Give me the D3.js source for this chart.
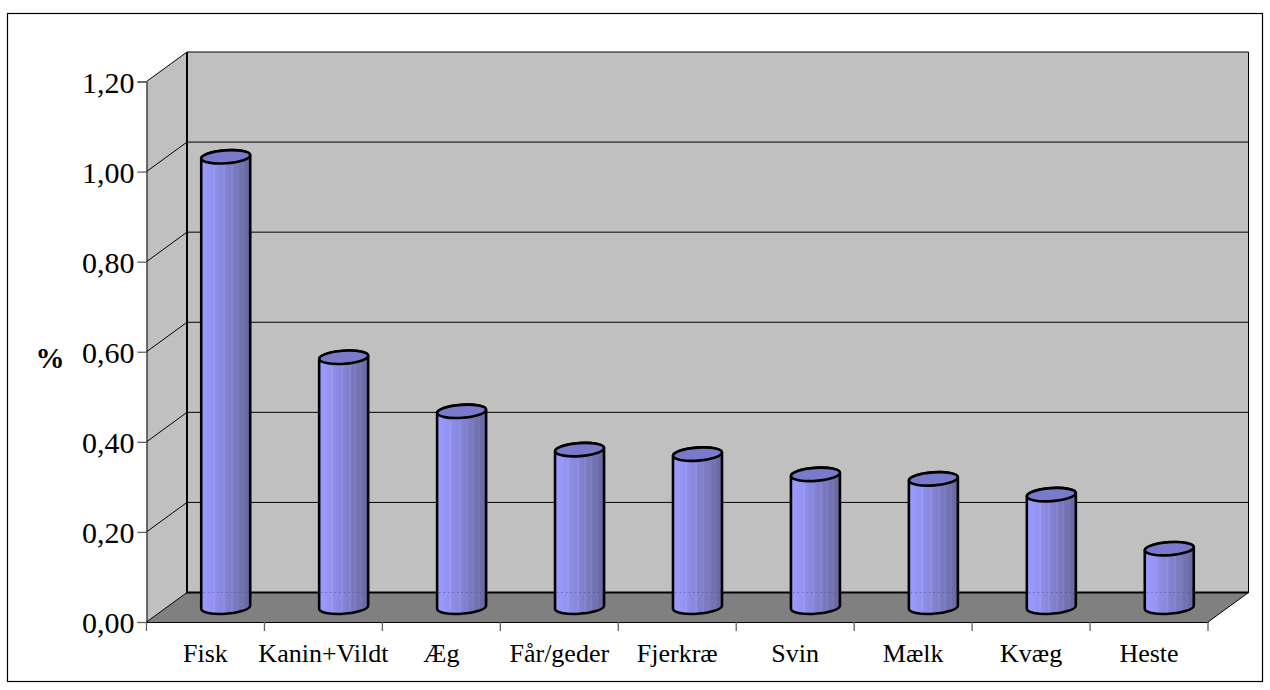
<!DOCTYPE html>
<html>
<head>
<meta charset="utf-8">
<script src="https://cdn.jsdelivr.net/npm/d3@7"></script>
<style>
  html, body { margin: 0; background: #fff; }
  text { font-family: "Liberation Serif", serif; fill: #000; }
</style>
</head>
<body>
<svg id="chart" width="1270" height="690"></svg>
<script>
const categories = ["Fisk", "Kanin+Vildt", "Æg", "Får/geder", "Fjerkræ", "Svin", "Mælk", "Kvæg", "Heste"];
const values = [1.00, 0.555, 0.435, 0.35, 0.34, 0.295, 0.285, 0.25, 0.13];
const yTicks = [0, 0.2, 0.4, 0.6, 0.8, 1.0, 1.2];
const shadeStops = ["#9c9cff","#9a9afd","#9898fa","#9797f8","#9595f4","#9393f1","#9999ee","#8e8eea","#8c8ce6","#8a8ae2","#8888de","#8f8fda","#8484d6","#8181d1","#7f7fcd","#8686c9","#7b7bc5","#7878c0","#7e7ebc","#7474b8","#7171b3","#7676af","#6c6cab","#6969a6","#6666a2"];

const svg = d3.select("#chart");
const frontLeft = 146.5, frontRight = 1208, floorY = 622, topY = 81.5;
const depthX = 40.5, depthY = 29.5;

const x = d3.scaleBand().domain(categories).range([frontLeft, frontRight]);
const y = d3.scaleLinear().domain([0, 1.2]).range([floorY, topY]);
const fmt = v => d3.format(".2f")(v).replace(".", ",");

// Outer frame
svg.append("rect").attr("x", 7.5).attr("y", 13.5).attr("width", 1255).attr("height", 668)
  .attr("fill", "#fff").attr("stroke", "#000").attr("stroke-width", 1.2);

// Back wall, side wall and floor of the 3-D box
svg.append("rect").attr("x", frontLeft + depthX).attr("y", topY - depthY)
  .attr("width", frontRight - frontLeft).attr("height", floorY - topY)
  .attr("fill", "#c0c0c0");
svg.append("path")
  .attr("d", `M${frontLeft},${floorY}V${topY}L${frontLeft + depthX},${topY - depthY}V${floorY - depthY}Z`)
  .attr("fill", "#c0c0c0");
svg.append("path")
  .attr("d", `M${frontLeft},${floorY}L${frontLeft + depthX},${floorY - depthY}H${frontRight + depthX}L${frontRight},${floorY}Z`)
  .attr("fill", "#808080");

// Gridlines running across the side wall and back wall
const grid = svg.append("g").attr("fill", "none").attr("stroke", "#000").attr("stroke-width", 1);
yTicks.forEach(t => {
  grid.append("path").attr("d",
    `M${frontLeft},${y(t)}L${frontLeft + depthX},${y(t) - depthY}H${frontRight + depthX}`);
});

// Box outlines
const box = svg.append("g").attr("fill", "none").attr("stroke", "#000");
box.append("path").attr("stroke-width", 1)
  .attr("d", `M${frontRight + depthX},${topY - depthY}V${floorY - depthY}L${frontRight},${floorY}`);
box.append("path").attr("stroke-width", 2)
  .attr("d", `M${frontLeft + depthX},${topY - depthY}V${floorY - depthY}H${frontRight + depthX}`);

// Axes
const yAxis = d3.axisLeft(y).tickValues(yTicks).tickFormat(fmt).tickSize(9).tickPadding(3);
const gy = svg.append("g").attr("transform", `translate(${frontLeft},0)`).call(yAxis);
gy.selectAll("text").attr("font-size", 30).attr("dy", "0.35em");
gy.selectAll("path").attr("stroke", "#000");
gy.selectAll("line").attr("stroke", "#606060").attr("stroke-width", 1.3);

const xAxis = d3.axisBottom(x).tickSize(0).tickPadding(22);
const gx = svg.append("g").attr("transform", `translate(0,${floorY})`).call(xAxis);
gx.select(".domain").attr("stroke", "#000");
gx.selectAll("text").attr("font-size", 26).attr("dy", "0.71em");
gx.selectAll("line.boundary").data(d3.range(categories.length + 1)).enter()
  .append("line").attr("class", "boundary")
  .attr("x1", i => frontLeft + i * x.step()).attr("x2", i => frontLeft + i * x.step())
  .attr("y1", 0).attr("y2", 9).attr("stroke", "#606060").attr("stroke-width", 1.3);

// Axis title
svg.append("text").attr("x", 50).attr("y", 368).attr("text-anchor", "middle")
  .attr("font-size", 29).attr("font-weight", "bold").text("%");

// Cylinder shading: narrow vertical bands from light to dark
const defs = svg.append("defs");
const grad = defs.append("linearGradient").attr("id", "cylinderShade")
  .attr("x1", 0).attr("x2", 1).attr("y1", 0).attr("y2", 0);
shadeStops.forEach((c, i) => {
  grad.append("stop").attr("offset", i / shadeStops.length).attr("stop-color", c);
  grad.append("stop").attr("offset", (i + 1) / shadeStops.length).attr("stop-color", c);
});

// Cylinders
const rx = 24.5, ry = 6.5, tilt = 3;
const bars = svg.append("g").selectAll("g").data(values).enter().append("g");
bars.append("path")
  .attr("fill", "url(#cylinderShade)").attr("stroke", "#000").attr("stroke-width", 2.6)
  .attr("stroke-linejoin", "round")
  .attr("d", (v, i) => {
    const cx = x(categories[i]) + x.step() / 2 + depthX / 2;
    const cyBase = y(0) - depthY / 2, cyTop = y(v) - depthY / 2;
    const l = cx - rx, r = cx + rx;
    return `M${l},${cyTop + tilt / 2}L${l},${cyBase + tilt / 2}` +
      `A${rx},${ry} -4 0 0 ${r},${cyBase - tilt / 2}L${r},${cyTop - tilt / 2}` +
      `A${rx},${ry} -4 0 0 ${l},${cyTop + tilt / 2}Z`;
  });
// Back edge of the floor showing faintly through each cylinder
bars.append("line")
  .attr("x1", (v, i) => x(categories[i]) + x.step() / 2 + depthX / 2 - rx + 2)
  .attr("x2", (v, i) => x(categories[i]) + x.step() / 2 + depthX / 2 + rx - 2)
  .attr("y1", y(0) - depthY).attr("y2", y(0) - depthY)
  .attr("stroke", "#4c4c80").attr("stroke-opacity", 0.55).attr("stroke-dasharray", "1.5 3");
bars.append("ellipse")
  .attr("rx", rx).attr("ry", ry)
  .attr("fill", "#7a7acb").attr("stroke", "#000").attr("stroke-width", 2.6)
  .attr("transform", (v, i) => {
    const cx = x(categories[i]) + x.step() / 2 + depthX / 2;
    return `translate(${cx},${y(v) - depthY / 2}) rotate(-4)`;
  });
</script>
</body>
</html>
